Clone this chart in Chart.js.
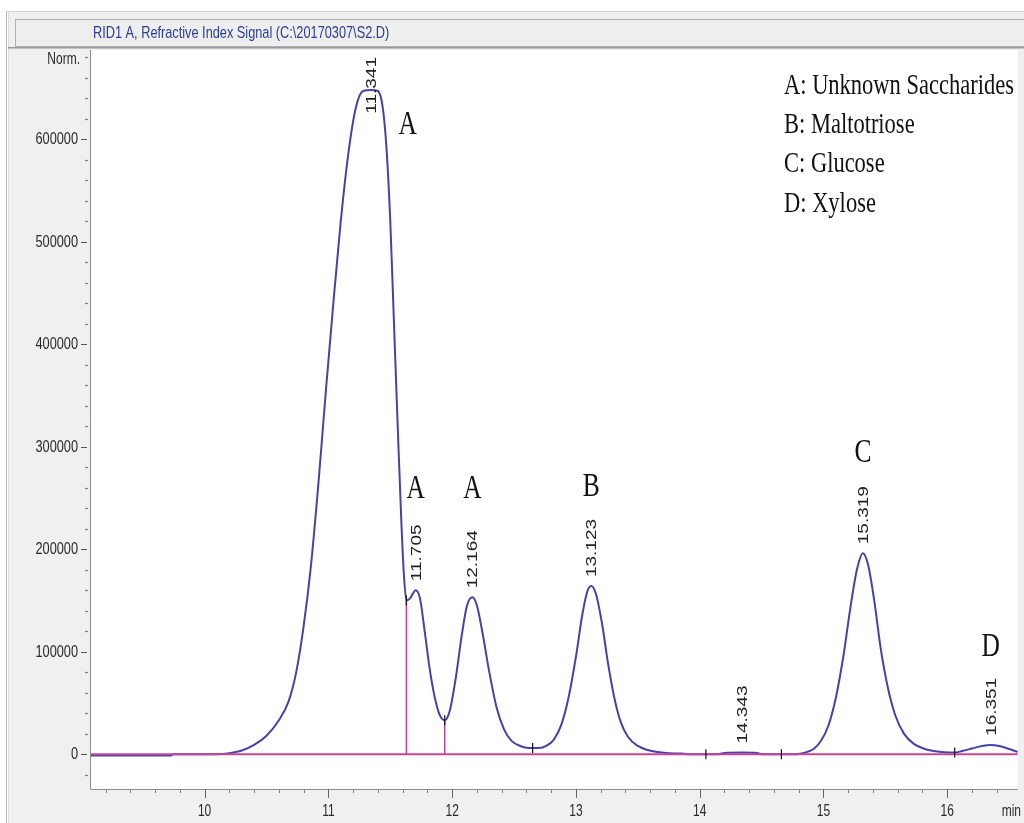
<!DOCTYPE html>
<html>
<head>
<meta charset="utf-8">
<script src="https://cdn.jsdelivr.net/npm/chart.js@4.4.1/dist/chart.umd.min.js"></script>
<style>
  html, body { margin: 0; padding: 0; background: #ffffff; overflow: hidden; }
  canvas { display: block; }
</style>
</head>
<body>
<canvas id="chrom" width="1024" height="823"></canvas>
<script>
// RID trace: retention time (min) and detector signal (norm.)
const retentionTime = [
  9.082, 9.73, 9.75, 10.10, 10.20, 10.30, 10.40, 10.50, 10.60, 10.68,
  10.74, 10.80, 10.86, 10.92, 10.98, 11.04, 11.10, 11.16, 11.22, 11.28,
  11.341, 11.40, 11.44, 11.47, 11.50, 11.53, 11.56, 11.59, 11.61, 11.63,
  11.66, 11.705, 11.74, 11.78, 11.82, 11.86, 11.90, 11.94, 11.98, 12.03,
  12.08, 12.12, 12.164, 12.20, 12.25, 12.30, 12.36, 12.42, 12.48, 12.55,
  12.62, 12.70, 12.76, 12.82, 12.88, 12.94, 13.00, 13.05, 13.09, 13.123,
  13.16, 13.21, 13.26, 13.31, 13.36, 13.42, 13.50, 13.58, 13.66, 13.75,
  13.85, 13.90, 14.15, 14.20, 14.343, 14.46, 14.50, 14.78, 14.85, 14.92,
  14.98, 15.04, 15.10, 15.16, 15.22, 15.27, 15.319, 15.36, 15.41, 15.46,
  15.52, 15.58, 15.65, 15.73, 15.82, 15.92, 16.02, 16.06, 16.12, 16.20,
  16.28, 16.351, 16.42, 16.50, 16.57
];
const signal = [
  -1200, -1200, 0, 0, 1000, 3500, 9000, 18000, 33000, 52000,
  80000, 125000, 185000, 265000, 355000, 440000, 520000, 585000, 630000, 647000,
  648000, 647000, 630000, 590000, 520000, 420000, 320000, 225000, 175000, 150000,
  152000, 160000, 152000, 118000, 82000, 55000, 38000, 33000, 42000, 75000,
  118000, 145000, 153000, 145000, 115000, 80000, 45000, 24000, 13000, 8000,
  6000, 6000, 8000, 14000, 28000, 55000, 95000, 135000, 158000, 164000,
  157000, 128000, 88000, 55000, 32000, 17000, 8000, 4000, 2000, 800,
  600, 0, 0, 1200, 1500, 1200, 0, 0, 1500, 5000,
  13000, 28000, 55000, 95000, 145000, 180000, 196000, 185000, 150000, 105000,
  65000, 38000, 20000, 10000, 5000, 2500, 1500, 1500, 3000, 5500,
  8000, 9000, 8000, 5000, 2000
];

// integrated peaks: apex time and apex height
const peakTimes = [11.341, 11.705, 12.164, 13.123, 14.343, 15.319, 16.351];
const peakHeights = [648000, 160000, 153000, 164000, 1500, 196000, 9000];

// drop lines between unresolved peaks
const dropTimes = [11.63, 11.94];
const dropHeights = [150000, 33000];

// peak start/end markers
const markTimes = [11.63, 11.94, 12.65, 14.05, 14.66, 16.06];
const markHeights = [150000, 33000, 6000, 0, 0, 1500];

// compound assignment letters
const compoundLetters = ['A', 'A', 'A', 'B', 'C', 'D'];
const compoundTimes = [11.64, 11.705, 12.164, 13.123, 15.319, 16.351];

const legendLines = ['A: Unknown Saccharides', 'B: Maltotriose', 'C: Glucose', 'D: Xylose'];
const xTickLabels = [10, 11, 12, 13, 14, 15, 16];
const yTickLabels = [0, 100000, 200000, 300000, 400000, 500000, 600000];
const signalTitle = 'RID1 A, Refractive Index Signal (C:\\20170307\\S2.D)';

const X_MIN = 9.082, X_MAX = 16.57;
const Y_MIN = -34000, Y_MAX = 687000;

const BLUE = '#4343a9';
const PINK = '#c8449a';
const SX = 0.75;   // horizontal text squeeze of the instrument printout

function squeezedText(ctx, text, x, y, font, color, align, baseline, rotated) {
  ctx.save();
  ctx.translate(x, y);
  ctx.scale(SX, 1);
  if (rotated) ctx.rotate(-Math.PI / 2);
  ctx.font = font;
  ctx.fillStyle = color;
  ctx.textAlign = align;
  ctx.textBaseline = baseline;
  ctx.fillText(text, 0, 0);
  ctx.restore();
}

function hLine(ctx, x1, x2, y, color, w) {
  ctx.beginPath(); ctx.strokeStyle = color; ctx.lineWidth = w || 1;
  ctx.moveTo(x1, y); ctx.lineTo(x2, y); ctx.stroke();
}
function vLine(ctx, x, y1, y2, color, w) {
  ctx.beginPath(); ctx.strokeStyle = color; ctx.lineWidth = w || 1;
  ctx.moveTo(x, y1); ctx.lineTo(x, y2); ctx.stroke();
}

// window frame, title bar and white plotting field
const framePlugin = {
  id: 'frame',
  beforeDraw(chart) {
    const ctx = chart.ctx;
    const a = chart.chartArea;
    ctx.save();
    ctx.fillStyle = '#ffffff';
    ctx.fillRect(0, 0, chart.width, chart.height);
    ctx.fillStyle = '#f0f0f0';
    ctx.fillRect(8, 11, chart.width - 8, chart.height - 11);
    vLine(ctx, 6.5, 11, chart.height, '#b4b4b4');
    vLine(ctx, 8.5, 11, chart.height, '#dcdcdc');
    hLine(ctx, 6, chart.width, 11.5, '#cfcfcf');
    // title bar
    ctx.fillStyle = '#eeeeee';
    ctx.fillRect(15, 19, chart.width - 15, 28);
    ctx.strokeStyle = '#b0b0b0';
    ctx.lineWidth = 1;
    ctx.strokeRect(15.5, 19.5, chart.width, 27);
    hLine(ctx, 8, chart.width, 47.5, '#9a9a9a');
    hLine(ctx, 8, chart.width, 48.5, '#c4c4c4');
    squeezedText(ctx, signalTitle, 93, 33.5, '17px "Liberation Sans", Arial, sans-serif',
      '#2b3f91', 'left', 'middle', false);
    // plotting field
    ctx.fillStyle = '#ffffff';
    ctx.fillRect(a.left, 50, a.right - a.left, a.bottom - 50);
    ctx.restore();
  }
};

// axes, peak annotations and legend text
const annotationPlugin = {
  id: 'annotations',
  afterDraw(chart) {
    const ctx = chart.ctx;
    const a = chart.chartArea;
    const xs = chart.scales.x, ys = chart.scales.y;
    ctx.save();

    // axis lines
    vLine(ctx, a.left - 0.5, 50, a.bottom + 0.5, '#8c8c8c');
    hLine(ctx, a.left - 0.5, a.right, a.bottom + 0.5, '#8c8c8c');

    // y ticks (major 100000, minor 20000)
    for (let k = -1; k <= 34; k++) {
      const v = k * 20000;
      const py = Math.round(ys.getPixelForValue(v)) + 0.5;
      if (py < 52 || py > a.bottom) continue;
      if (k % 5 === 0) hLine(ctx, 81, 87, py, '#555555');
      else hLine(ctx, 85, 88, py, '#808080', 1.2);
    }
    yTickLabels.forEach(v => {
      squeezedText(ctx, String(v), 78, ys.getPixelForValue(v) + 0.5,
        '17px "Liberation Sans", Arial, sans-serif', '#2a2a2a', 'right', 'middle', false);
    });
    squeezedText(ctx, 'Norm.', 80, 60, '16px "Liberation Sans", Arial, sans-serif',
      '#2a2a2a', 'right', 'middle', false);

    // x ticks (major 1 min, minor 0.2 min)
    for (let k = 46; k <= 82; k++) {
      const px = Math.round(xs.getPixelForValue(k / 5)) + 0.5;
      if (k % 5 === 0) vLine(ctx, px, a.bottom, a.bottom + 9, '#666666');
      else vLine(ctx, px, a.bottom, a.bottom + 4, '#808080');
    }
    xTickLabels.forEach(t => {
      squeezedText(ctx, String(t), xs.getPixelForValue(t), 812,
        '16px "Liberation Sans", Arial, sans-serif', '#2a2a2a', 'center', 'middle', false);
    });
    squeezedText(ctx, 'min', 1021, 812, '16px "Liberation Sans", Arial, sans-serif',
      '#2a2a2a', 'right', 'middle', false);

    // retention time labels above each apex
    const rtFont = '19px "Liberation Sans", Arial, sans-serif';
    ctx.font = rtFont;
    peakTimes.forEach((t, i) => {
      const label = t.toFixed(3);
      const len = ctx.measureText(label).width;
      const px = xs.getPixelForValue(t) + 1;
      let start = ys.getPixelForValue(peakHeights[i]) - 9;
      if (start - len < a.top + 7) start = a.top + 7 + len;
      squeezedText(ctx, label, px, start, rtFont, '#222222', 'left', 'middle', true);
    });

    // compound letters
    const letterBase = [134, 498, 498, 496, 462, 656];
    compoundLetters.forEach((c, i) => {
      squeezedText(ctx, c, xs.getPixelForValue(compoundTimes[i]), letterBase[i],
        '34px "Liberation Serif", "Times New Roman", serif', '#111111', 'center', 'alphabetic', false);
    });

    // compound key
    const keyBase = [94, 133, 172, 212];
    legendLines.forEach((s, i) => {
      squeezedText(ctx, s, 784, keyBase[i],
        '30px "Liberation Serif", "Times New Roman", serif', '#111111', 'left', 'alphabetic', false);
    });

    ctx.restore();
  }
};

const tracePoints = retentionTime.map((t, i) => ({ x: t, y: signal[i] }));
const baselinePoints = [{ x: X_MIN, y: 0 }, { x: X_MAX, y: 0 }];
const dropSets = dropTimes.map((t, i) => ({
  data: [{ x: t, y: 0 }, { x: t, y: dropHeights[i] }],
  borderColor: PINK, borderWidth: 1.5, pointRadius: 0, order: 1
}));
const markPoints = markTimes.map((t, i) => ({ x: t, y: markHeights[i] }));

new Chart(document.getElementById('chrom'), {
  type: 'line',
  data: {
    datasets: [
      {
        data: markPoints, showLine: false, pointStyle: 'line', rotation: 90,
        pointRadius: 5, pointBorderColor: '#111111', pointBorderWidth: 1.2,
        borderColor: '#111111', order: -1
      },
      { data: baselinePoints, borderColor: PINK, borderWidth: 2, pointRadius: 0, order: 0 },
      ...dropSets,
      {
        data: tracePoints, borderColor: BLUE, borderWidth: 2, pointRadius: 0,
        cubicInterpolationMode: 'monotone', order: 2
      }
    ]
  },
  options: {
    responsive: false,
    devicePixelRatio: 1,
    animation: false,
    events: [],
    layout: { padding: { left: 91, right: 3, top: 50, bottom: 34 } },
    plugins: { legend: { display: false }, tooltip: { enabled: false } },
    scales: {
      x: { type: 'linear', min: X_MIN, max: X_MAX, display: false },
      y: { type: 'linear', min: Y_MIN, max: Y_MAX, display: false }
    }
  },
  plugins: [framePlugin, annotationPlugin]
});
</script>
</body>
</html>
